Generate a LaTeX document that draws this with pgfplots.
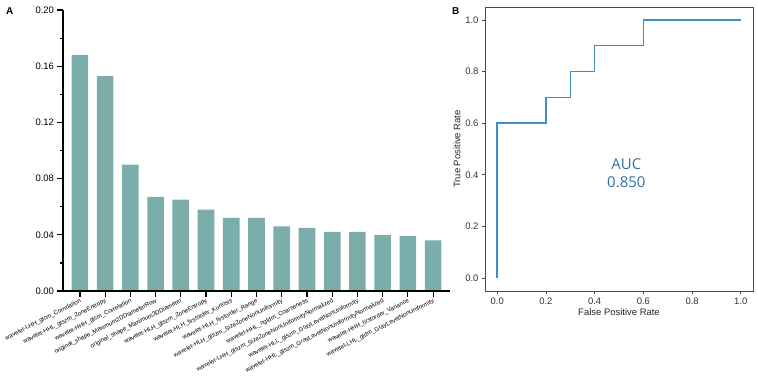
\documentclass[border=0pt]{standalone}
\usepackage{fontspec}
\setmainfont{Liberation Sans}
\newfontfamily\aucfont{Open Sans}
\usepackage{pgfplots}
\pgfplotsset{compat=1.18}

\definecolor{barteal}{HTML}{7BADAB}
\definecolor{rocblue}{HTML}{3D8DC9}
\definecolor{auctext}{HTML}{2C72A3}
\definecolor{framegray}{HTML}{4A4A4A}

\begin{document}
\begin{tikzpicture}
\path[use as bounding box] (0,0) rectangle (758bp,-386bp);

% Panel A: feature importance
\node[anchor=north west, inner sep=0pt, font=\fontsize{10}{12}\selectfont\bfseries] at (6bp,-7bp) {A};
\begin{axis}[
  at={(63bp,-291bp)}, anchor=south west,
  scale only axis, width=387bp, height=281bp,
  xmin=-0.67, xmax=14.67, ymin=0, ymax=0.2,
  axis lines*=left,
  axis line style={-, line width=1.2bp, black},
  axis on top,
  ytick={0,0.04,0.08,0.12,0.16,0.20},
  minor y tick num=1,
  yticklabel style={/pgf/number format/fixed, /pgf/number format/fixed zerofill,
    /pgf/number format/precision=2, /pgf/number format/assume math mode=true,
    font=\fontsize{9.5}{11}\selectfont},
  tick align=outside,
  major tick length=5.5bp, minor tick length=3bp,
  xtick style={draw=black, line width=1.2bp},
  ytick style={draw=black, line width=1.2bp},
  xtick={0,1,2,3,4,5,6,7,8,9,10,11,12,13,14},
  xticklabels={
    wavelet-LHH\_glcm\_Correlation,
    wavelet-HHL\_glszm\_ZoneEntropy,
    wavelet-HHH\_glcm\_Correlation,
    original\_shape\_Maximum2DDiameterRow,
    original\_shape\_Maximum3DDiameter,
    wavelet-HLH\_glszm\_ZoneEntropy,
    wavelet-HLH\_firstorder\_Kurtosis,
    wavelet-HLH\_firstorder\_Range,
    wavelet-HLH\_glszm\_SizeZoneNonUniformity,
    wavelet-HHL\_ngtdm\_Coarseness,
    wavelet-LHH\_glszm\_SizeZoneNonUniformityNormalized,
    wavelet-HLL\_glszm\_GrayLevelNonUniformity,
    wavelet-HHL\_glszm\_GrayLevelNonUniformityNormalized,
    wavelet-HHH\_firstorder\_Variance,
    wavelet-LHL\_gldm\_GrayLevelNonUniformity},
  xticklabel style={rotate=27, anchor=north east, inner sep=1pt, font=\fontsize{6.1}{7}\selectfont},
  clip=false,
]
\addplot[ybar, bar width=0.66, fill=barteal, draw=none] coordinates {
  (0,0.168) (1,0.153) (2,0.090) (3,0.067) (4,0.065) (5,0.058) (6,0.052) (7,0.052)
  (8,0.046) (9,0.045) (10,0.042) (11,0.042) (12,0.040) (13,0.039) (14,0.036)
};
\end{axis}

% Panel B: ROC curve
\node[anchor=north west, inner sep=0pt, font=\fontsize{10}{12}\selectfont\bfseries] at (452bp,-7bp) {B};
\begin{axis}[
  at={(485bp,-291bp)}, anchor=south west,
  scale only axis, width=268bp, height=284bp,
  xmin=-0.05, xmax=1.05, ymin=-0.05, ymax=1.05,
  axis line style={framegray, line width=0.8bp},
  xtick={0,0.2,0.4,0.6,0.8,1.0}, ytick={0,0.2,0.4,0.6,0.8,1.0},
  xtick pos=bottom, ytick pos=left,
  tick align=outside, major tick length=3bp,
  tick style={framegray, line width=0.8bp},
  ticklabel style={/pgf/number format/fixed, /pgf/number format/fixed zerofill,
    /pgf/number format/precision=1, /pgf/number format/assume math mode=true,
    font=\fontsize{9.5}{11}\selectfont, text=black!80},
  xlabel={False Positive Rate}, ylabel={True Positive Rate},
  label style={font=\fontsize{9.5}{11}\selectfont, text=black!85},
  xlabel style={yshift=2bp}, ylabel style={yshift=-2bp},
]
\addplot[rocblue, line width=1.5bp] coordinates {
  (0,0) (0,0.6) (0.2,0.6) (0.2,0.7) (0.3,0.7) (0.3,0.8) (0.4,0.8)
  (0.4,0.9) (0.6,0.9) (0.6,1.0) (1.0,1.0)
};
\node[auctext, align=center, font=\aucfont\fontsize{15}{18}\selectfont] at (axis cs:0.53,0.405) {AUC\\0.850};
\end{axis}
\end{tikzpicture}
\end{document}
